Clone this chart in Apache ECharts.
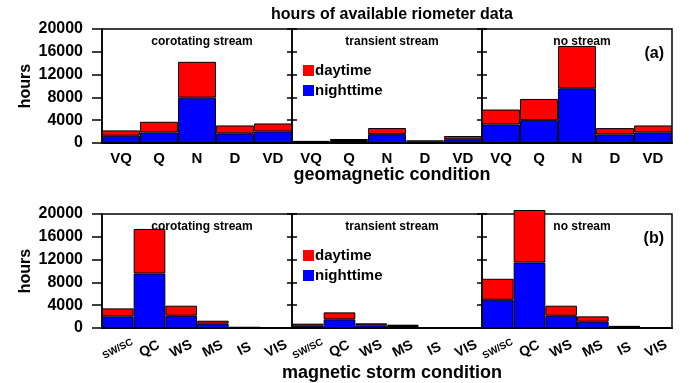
<!DOCTYPE html>
<html>
<head>
<meta charset="utf-8">
<script src="https://cdn.jsdelivr.net/npm/echarts@6/dist/echarts.min.js"></script>
<style>
  html, body { margin: 0; padding: 0; background: #fff; }
  #chart { width: 700px; height: 383px; }
</style>
</head>
<body>
<div id="chart"></div>
<script>
// categories
var geoCats = ["VQ", "Q", "N", "D", "VD"];
var stormCats = ["SW/SC", "QC", "WS", "MS", "IS", "VIS"];
var panelNames = ["corotating stream", "transient stream", "no stream"];
var yTicks = [0, 4000, 8000, 12000, 16000, 20000];

// (a) geomagnetic condition: nighttime and daytime hours
var geoNight = [
  [1280, 1860, 7960, 1690, 2030],
  [200, 350, 1550, 250, 650],
  [3260, 4010, 9590, 1510, 1860]
];
var geoDay = [
  [930, 1860, 6280, 1390, 1400],
  [150, 350, 1070, 200, 570],
  [2610, 3720, 7440, 1100, 1220]
];

// (b) magnetic storm condition
var stormNight = [
  [2040, 9560, 2160, 760, 80, 10],
  [400, 1520, 470, 350, 60, 0],
  [4960, 11490, 2160, 1110, 200, 0]
];
var stormDay = [
  [1400, 7820, 1750, 520, 60, 10],
  [360, 1220, 350, 230, 40, 0],
  [3670, 9210, 1750, 930, 150, 0]
];

var RED = "#ff0000", BLUE = "#0000ff";
var FONT = "Liberation Sans, Arial, sans-serif";

var rows = [
  { top: 29, cats: geoCats, night: geoNight, day: geoDay, tag: "(a)" },
  { top: 214, cats: stormCats, night: stormNight, day: stormDay, tag: "(b)" }
];
var lefts = [102, 292, 482];
var panelW = 190, panelH = 114;

var grid = [], xAxis = [], yAxis = [], series = [], titles = [], legends = [];

titles.push({
  text: "hours of available riometer data", left: 387, top: 2, textAlign: "center",
  textStyle: { fontFamily: FONT, fontWeight: "bold", fontSize: 16, color: "#000" }
});
titles.push({
  text: "geomagnetic condition", left: 387, top: 161, textAlign: "center",
  textStyle: { fontFamily: FONT, fontWeight: "bold", fontSize: 18, color: "#000" }
});
titles.push({
  text: "magnetic storm condition", left: 387, top: 359, textAlign: "center",
  textStyle: { fontFamily: FONT, fontWeight: "bold", fontSize: 18, color: "#000" }
});

rows.forEach(function (row, r) {
  titles.push({
    text: row.tag, right: 31, top: row.top + 12,
    textStyle: { fontFamily: FONT, fontWeight: "bold", fontSize: 16, color: "#000" }
  });
  legends.push({
    data: ["daytime", "nighttime"], orient: "vertical", left: 298, top: row.top + 29,
    icon: "rect", itemWidth: 11, itemHeight: 11, itemGap: 5, selectedMode: false,
    itemStyle: { borderWidth: 0 },
    textStyle: { fontFamily: FONT, fontWeight: "bold", fontSize: 15, color: "#000", padding: [0, 0, 0, -4] }
  });
  for (var p = 0; p < 3; p++) {
    var gi = grid.length;
    grid.push({
      left: lefts[p], top: row.top, width: panelW, height: panelH,
      show: true, borderColor: "#000", borderWidth: 1.5, backgroundColor: "transparent"
    });
    titles.push({
      text: panelNames[p], left: lefts[p] + panelW / 2, top: row.top + 2, textAlign: "center", z: 0,
      textStyle: { fontFamily: FONT, fontWeight: "bold", fontSize: 12, color: "#000" }
    });
    var storm = r === 1;
    xAxis.push({
      type: "category", gridIndex: gi, data: row.cats,
      axisLine: { lineStyle: { color: "#000", width: 2 } },
      axisTick: { length: 8, interval: 0, lineStyle: { color: "#000", width: 1.5 } },
      axisLabel: storm ? {
        interval: 0, rotate: 27, margin: 21, align: "center", verticalAlign: "middle",
        color: "#000", fontFamily: FONT, fontWeight: "bold", fontSize: 14,
        formatter: function (v) { return v === "SW/SC" ? "{s|" + v + "}" : v; },
        rich: { s: { fontFamily: FONT, fontWeight: "bold", fontSize: 10, color: "#000" } }
      } : { interval: 0, margin: 8, color: "#000", fontFamily: FONT, fontWeight: "bold", fontSize: 15 },
      splitLine: { show: false }
    });
    var yi = yAxis.length;
    yAxis.push({
      type: "value", gridIndex: gi, min: 0, max: 20000, interval: 4000, position: "left",
      name: p === 0 ? "hours" : "", nameLocation: "middle", nameGap: 68,
      nameTextStyle: { fontFamily: FONT, fontWeight: "bold", fontSize: 16, color: "#000" },
      axisLine: { show: p === 0, lineStyle: { color: "#000", width: 1.5 } },
      axisTick: { show: true, length: p === 0 ? 10 : 5, lineStyle: { color: "#000", width: 1.5 } },
      axisLabel: {
        show: p === 0, color: "#000", fontFamily: FONT, fontWeight: "bold", fontSize: 16, margin: 19,
        formatter: function (v) { return String(v); }
      },
      splitLine: { show: false }
    });
    if (p < 2) {
      yAxis.push({
        type: "value", gridIndex: gi, min: 0, max: 20000, interval: 4000, position: "right",
        axisLine: { show: false },
        axisTick: { show: true, length: 5, lineStyle: { color: "#000", width: 1.5 } },
        axisLabel: { show: false },
        splitLine: { show: false }
      });
    }
    series.push({
      name: "nighttime", type: "bar", stack: "s" + gi, xAxisIndex: gi, yAxisIndex: yi,
      data: row.night[p], barCategoryGap: "0%", clip: false,
      itemStyle: { color: BLUE, borderColor: "#000", borderWidth: 1 }
    });
    series.push({
      name: "daytime", type: "bar", stack: "s" + gi, xAxisIndex: gi, yAxisIndex: yi,
      data: row.day[p], barCategoryGap: "0%", clip: false,
      itemStyle: { color: RED, borderColor: "#000", borderWidth: 1 }
    });
  }
});

var chart = echarts.init(document.getElementById("chart"));
chart.setOption({
  animation: false,
  color: [BLUE, RED],
  title: titles,
  legend: legends,
  grid: grid,
  xAxis: xAxis,
  yAxis: yAxis,
  series: series
});
</script>
</body>
</html>
